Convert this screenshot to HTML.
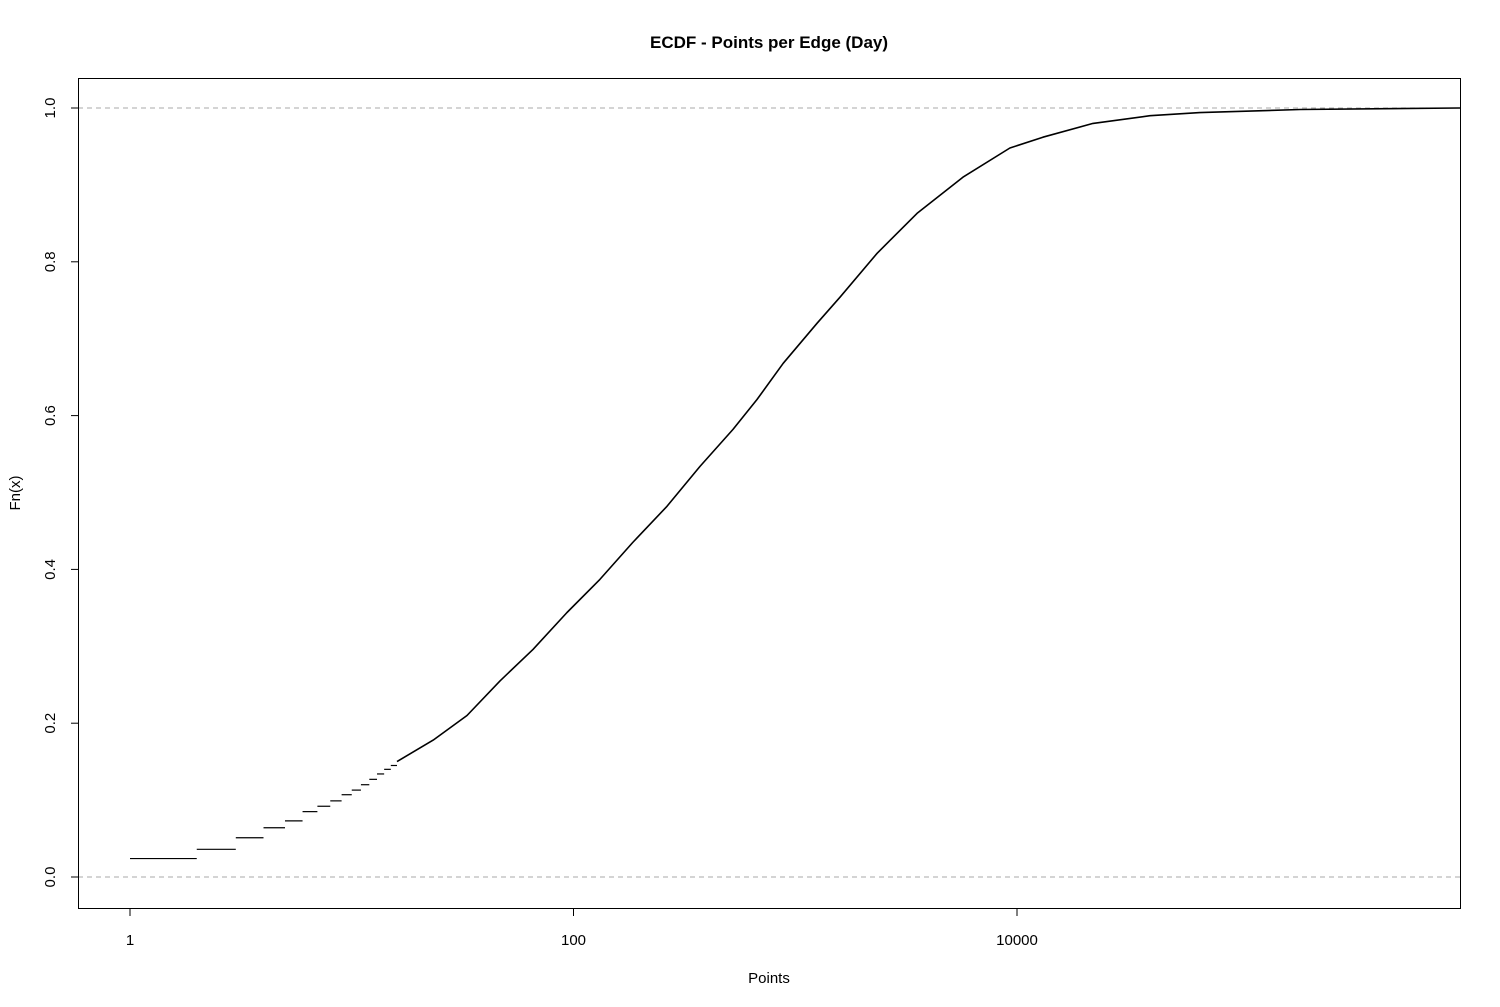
<!DOCTYPE html>
<html><head><meta charset="utf-8">
<style>
html,body{margin:0;padding:0;background:#fff;}
svg{display:block;font-family:"Liberation Sans",Arial,sans-serif;}
</style></head>
<body>
<svg id="chart" width="1500" height="1007" viewBox="0 0 1500 1007" xmlns="http://www.w3.org/2000/svg">
  <rect width="1500" height="1007" fill="#fff"/>
  <text x="769" y="48" text-anchor="middle" font-size="17" font-weight="bold">ECDF - Points per Edge (Day)</text>
  <text x="769" y="983" text-anchor="middle" font-size="15">Points</text>
  <text x="20" y="493" text-anchor="middle" font-size="15" transform="rotate(-90 20 493)">Fn(x)</text>
  <g id="grid"></g>
  <g id="marks"></g>
  <g id="axes"></g>
  <rect x="78.5" y="78.5" width="1382" height="830" fill="none" stroke="#000" stroke-width="1"/>
</svg>
<script>
// Data
const stepX = [1,2,3,4,5,6,7,8,9,10,11,12,13,14,15,16];
const stepF = [0.024,0.036,0.051,0.064,0.073,0.085,0.092,0.099,0.107,0.113,0.120,0.127,0.134,0.140,0.145,0.150];
const curveX = [16,23.3,33.1,46.6,65.7,93.5,131.5,185,264,372,524,672,882,1254,1592,2339,3540,5700,9290,13090,22020,39800,66800,189000,985000];
const curveF = [0.150,0.178,0.210,0.255,0.296,0.344,0.387,0.435,0.482,0.534,0.582,0.621,0.668,0.720,0.754,0.811,0.863,0.910,0.948,0.962,0.980,0.990,0.994,0.998,1.0];
const xTicks = [1,100,10000];
const xTickLabels = ["1","100","10000"];
const yTicks = [0,0.2,0.4,0.6,0.8,1.0];
const yTickLabels = ["0.0","0.2","0.4","0.6","0.8","1.0"];

const NS = "http://www.w3.org/2000/svg";
const xs = v => 130 + Math.log10(v) * 221.75;
const ys = v => 877 - v * 769;
function mk(tag, attrs, parent){
  const e = document.createElementNS(NS, tag);
  for (const k in attrs) e.setAttribute(k, attrs[k]);
  parent.appendChild(e); return e;
}
const grid = document.getElementById('grid');
const marks = document.getElementById('marks');
const axes = document.getElementById('axes');

[0,1].forEach(v => {
  const l = mk('line', {x1:78, x2:1460, y1:ys(v), y2:ys(v), stroke:'#aaa', 'stroke-dasharray':'5,4', 'stroke-width':1}, grid);
  
  
});

for (let i = 0; i < stepX.length - 1; i++) {
  const l = mk('line', {x1:xs(stepX[i]), x2:xs(stepX[i+1]), y1:ys(stepF[i]), y2:ys(stepF[i]), stroke:'#000', 'stroke-width':1.2}, marks);
  
  
}
let d = '';
for (let i = 0; i < curveX.length; i++) d += (i ? 'L' : 'M') + xs(curveX[i]).toFixed(1) + ',' + ys(curveF[i]).toFixed(1);
d += 'L1460,' + ys(curveF[curveF.length-1]).toFixed(1);
const p = mk('path', {d:d, fill:'none', stroke:'#000', 'stroke-width':1.6, 'stroke-linejoin':'round'}, marks);



// x axis
const xa = mk('line', {x1:xs(1), x2:xs(10000), y1:908.5, y2:908.5, stroke:'#000'}, axes);


xTicks.forEach((t, i) => {
  const tk = mk('line', {x1:xs(t), x2:xs(t), y1:908, y2:916, stroke:'#000'}, axes);
  
  
  const tx = mk('text', {x:xs(t), y:945, 'text-anchor':'middle', 'font-size':15}, axes);
  tx.textContent = xTickLabels[i];
  
  
});
// y axis
const ya = mk('line', {x1:78.5, x2:78.5, y1:ys(0), y2:ys(1), stroke:'#000'}, axes);


yTicks.forEach((t, i) => {
  const tk = mk('line', {x1:71, x2:78, y1:ys(t), y2:ys(t), stroke:'#000'}, axes);
  
  
  const tx = mk('text', {x:55, y:ys(t), 'text-anchor':'middle', 'font-size':15, transform:'rotate(-90 55 ' + ys(t) + ')'}, axes);
  tx.textContent = yTickLabels[i];
  
  
});
</script>
</body></html>
